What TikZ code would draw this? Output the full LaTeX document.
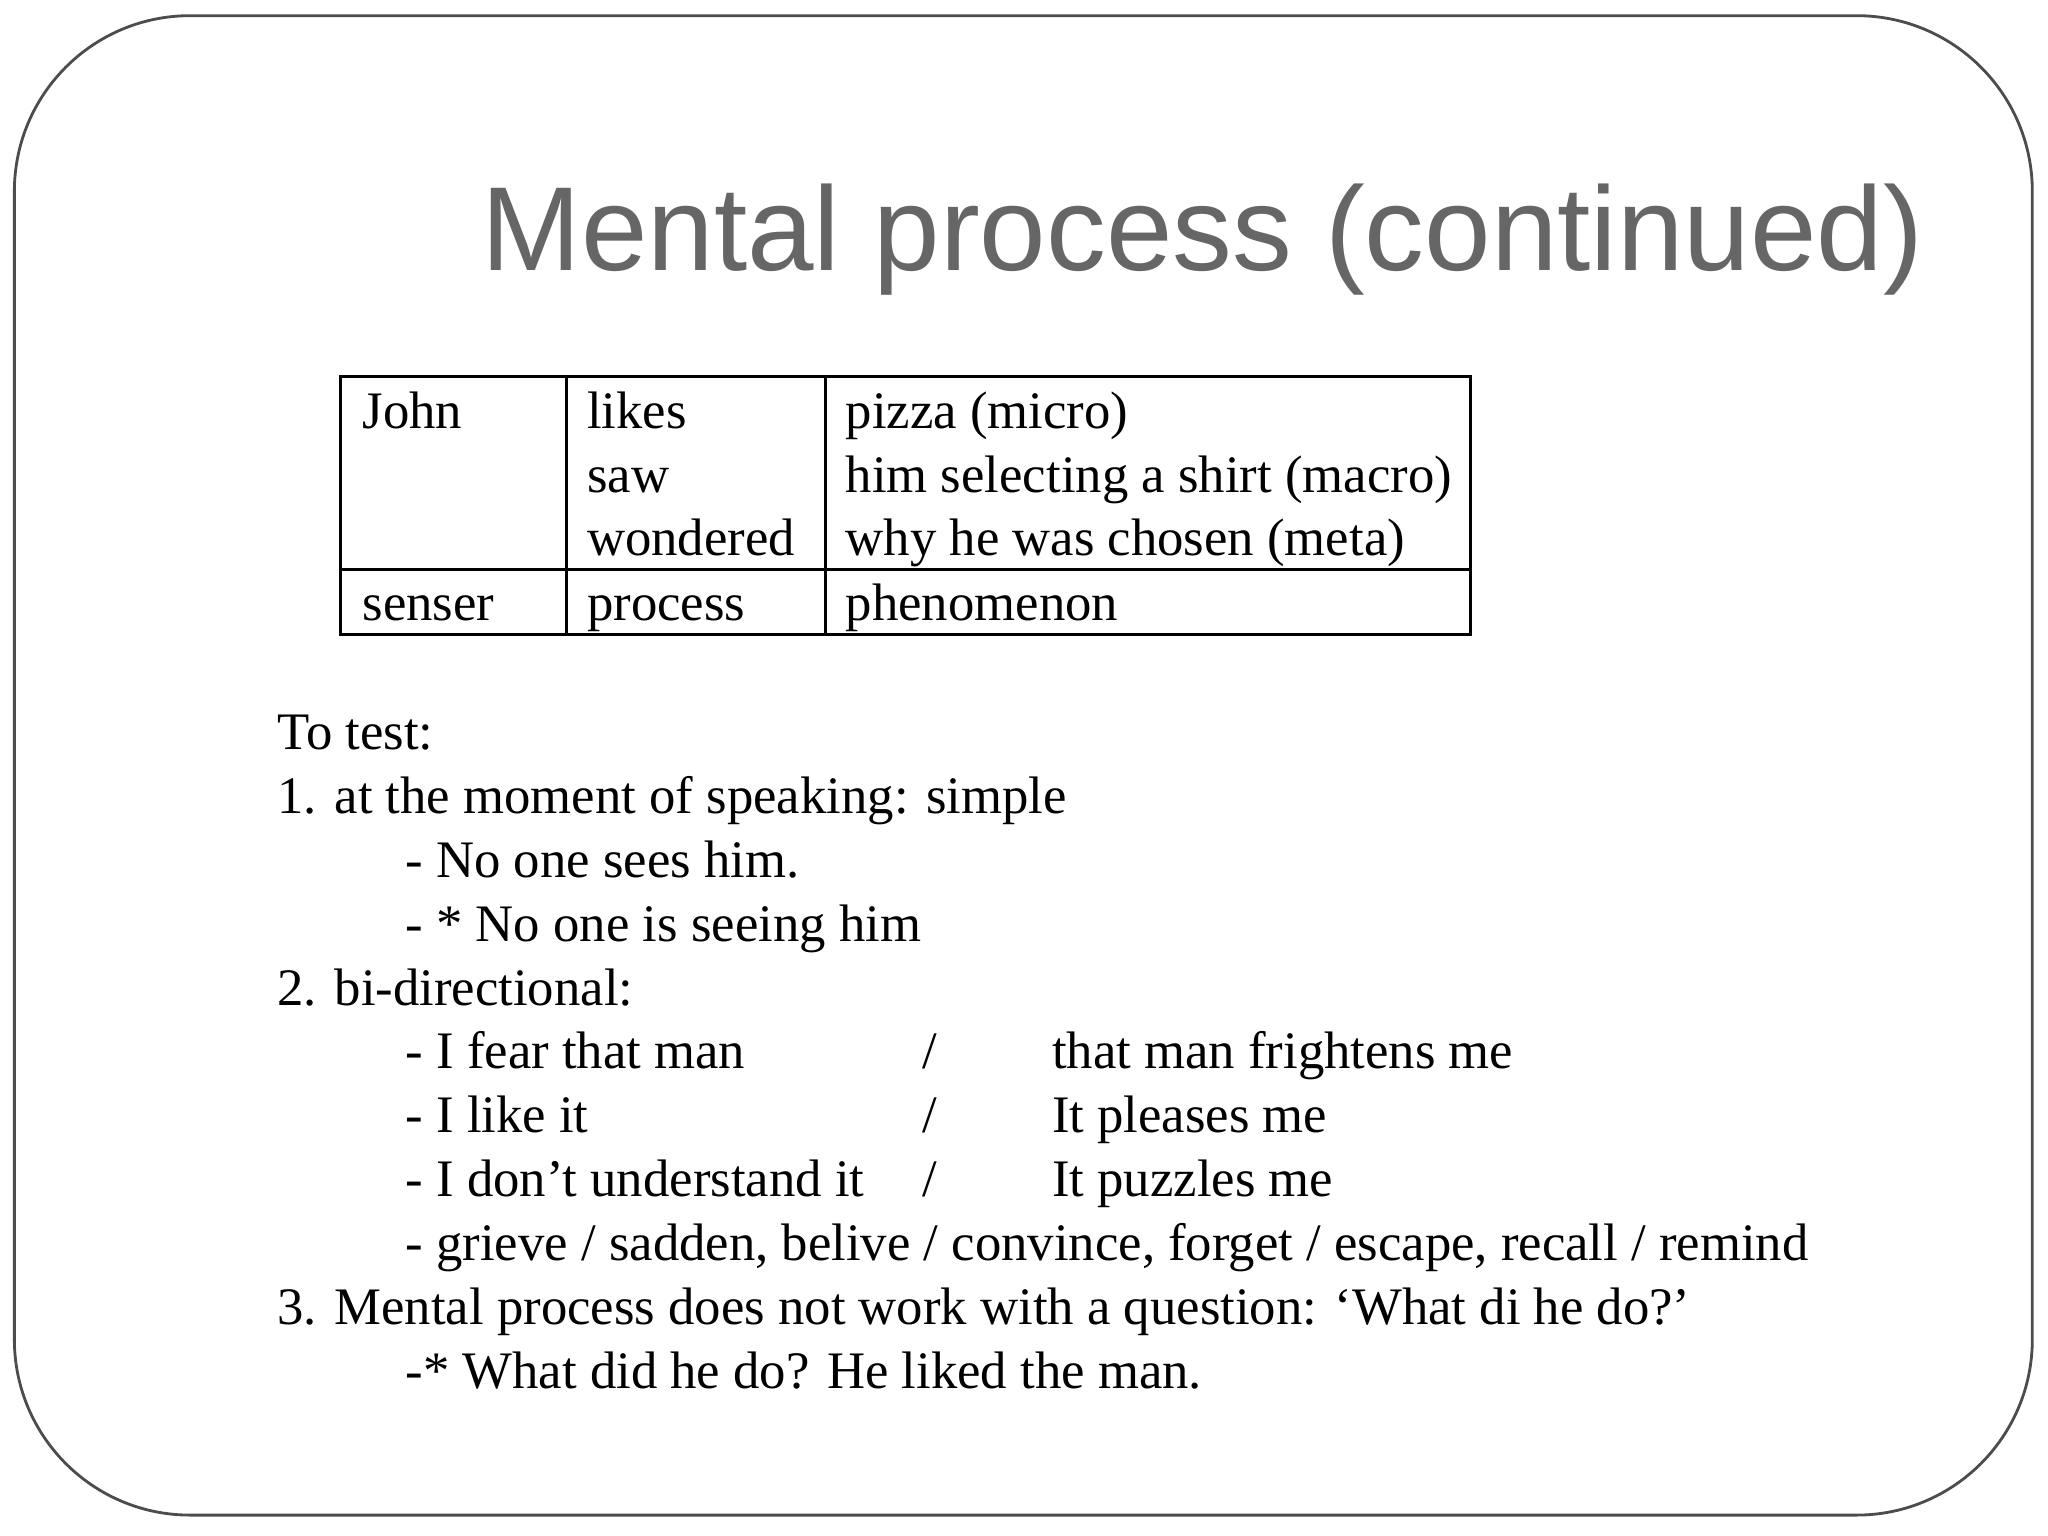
\documentclass[tikz,border=0pt]{standalone}
\usepackage{fontspec}
\setmainfont{Liberation Serif}
\newfontfamily\titlefont{Liberation Sans}
\begin{document}
\begin{tikzpicture}[x=0.013061cm,y=-0.013061cm,
  txt/.style={anchor=base west,inner sep=0pt,font=\fontsize{15pt}{18pt}\selectfont},
  tline/.style={draw=black,line width=0.8pt}]
\useasboundingbox (0,0) rectangle (1568,1176);
\draw[rounded corners=50pt,draw=black!70,line width=0.8pt] (11,12) rectangle (1556,1160);
\node[anchor=base east,inner sep=0pt,text=black!60,font=\titlefont\fontsize{34pt}{40pt}\selectfont] (title) at (1473,207) {Mental process (continued)};
% table
\draw[tline] (261,288) rectangle (1126,486);
\draw[tline] (434,288) -- (434,486);
\draw[tline] (632,288) -- (632,486);
\draw[tline] (261,436) -- (1126,436);
\node[txt] (j) at (277,328) {John};
\node[txt] (l1) at (449,328) {likes};
\node[txt] (l2) at (449,377) {saw};
\node[txt] (l3) at (449,425) {wondered};
\node[txt] (p1) at (647,328) {pizza (micro)};
\node[txt] (p2) at (647,377) {him selecting a shirt (macro)};
\node[txt] (p3) at (647,425) {why he was chosen (meta)};
\node[txt] (s) at (277,475) {senser};
\node[txt] (pr) at (449,475) {process};
\node[txt] (ph) at (647,475) {phenomenon};
% body
\node[txt] (b1) at (212,574) {To test:};
\node[txt] (b2) at (212,623) {1. at the moment of speaking: simple};
\node[txt] (b3) at (310,672) {- No one sees him.};
\node[txt] (b4) at (310,721) {- * No one is seeing him};
\node[txt] (b5) at (212,770) {2. bi-directional:};
\node[txt] (b6) at (310,818) {- I fear that man};
\node[txt] (b6s) at (706,818) {/};
\node[txt] (b6r) at (805,818) {that man frightens me};
\node[txt] (b7) at (310,867) {- I like it};
\node[txt] (b7s) at (706,867) {/};
\node[txt] (b7r) at (805,867) {It pleases me};
\node[txt] (b8) at (310,916) {- I don’t understand it};
\node[txt] (b8s) at (706,916) {/};
\node[txt] (b8r) at (805,916) {It puzzles me};
\node[txt] (b9) at (310,965) {- grieve / sadden, belive / convince, forget / escape, recall / remind};
\node[txt] (b10) at (212,1014) {3. Mental process does not work with a question: ‘What di he do?’};
\node[txt] (b11) at (310,1063) {-* What did he do? He liked the man.};
\end{tikzpicture}
\end{document}
